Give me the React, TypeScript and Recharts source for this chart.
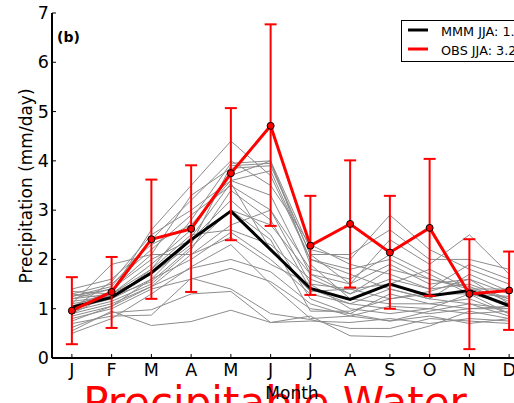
import React from 'react';
import { LineChart, Line, XAxis, YAxis, ReferenceLine, ErrorBar } from 'recharts';

// Month initials on the x axis
const months = ['J', 'F', 'M', 'A', 'M', 'J', 'J', 'A', 'S', 'O', 'N', 'D'];
const yTicks = [0, 1, 2, 3, 4, 5, 6, 7];

// Multi-model mean
const mmm = [1.03, 1.23, 1.73, 2.4, 2.98, 2.2, 1.41, 1.19, 1.5, 1.26, 1.37, 1.06];

// Observations with their uncertainty ranges
const obs = [0.96, 1.34, 2.41, 2.62, 3.75, 4.71, 2.28, 2.72, 2.14, 2.64, 1.3, 1.37];
const obsLow = [0.28, 0.61, 1.2, 1.34, 2.39, 2.68, 1.28, 1.43, 1.0, 1.26, 0.18, 0.57];
const obsHigh = [1.64, 2.05, 3.62, 3.91, 5.07, 6.77, 3.29, 4.01, 3.29, 4.04, 2.41, 2.16];

// Individual model climatologies
const models: number[][] = [
  [0.55, 0.95, 0.66, 0.74, 0.97, 0.72, 0.75, 0.72, 0.8, 0.7, 0.8, 0.75],
  [0.62, 0.92, 0.98, 1.3, 1.35, 0.72, 0.85, 0.45, 0.43, 0.65, 0.95, 0.8],
  [0.7, 0.85, 0.87, 1.62, 1.4, 0.9, 0.78, 0.6, 0.6, 0.8, 0.75, 0.7],
  [0.8, 1.0, 1.4, 1.6, 1.82, 1.55, 1.0, 0.9, 0.75, 0.95, 1.1, 0.85],
  [0.9, 1.1, 1.45, 1.82, 2.0, 1.75, 1.1, 0.85, 1.05, 1.0, 0.9, 0.95],
  [1.0, 1.2, 1.6, 2.0, 2.55, 2.0, 1.3, 1.1, 1.4, 1.2, 1.1, 1.0],
  [1.1, 1.9, 2.1, 2.1, 2.45, 1.9, 1.5, 1.4, 1.2, 1.3, 1.3, 1.1],
  [1.2, 1.3, 1.8, 2.5, 2.6, 2.3, 1.6, 1.3, 1.6, 1.4, 1.5, 1.2],
  [1.25, 1.4, 2.0, 2.4, 3.0, 2.7, 1.7, 1.5, 1.9, 1.5, 1.6, 1.3],
  [1.3, 1.5, 2.2, 2.9, 3.5, 3.0, 1.8, 1.6, 2.1, 1.7, 1.3, 1.25],
  [1.4, 1.6, 2.3, 2.7, 3.6, 3.8, 2.0, 1.8, 2.0, 1.6, 1.4, 1.4],
  [1.35, 1.3, 1.9, 2.6, 3.7, 4.0, 2.2, 2.0, 2.9, 2.2, 1.8, 1.5],
  [1.15, 1.25, 1.7, 2.3, 3.9, 3.95, 2.1, 1.5, 2.4, 1.9, 2.5, 1.7],
  [1.05, 1.35, 2.6, 3.5, 4.4, 3.7, 2.0, 1.7, 1.4, 1.2, 1.7, 1.35],
  [0.95, 1.15, 1.5, 2.2, 3.4, 2.8, 1.4, 1.1, 1.0, 0.9, 1.0, 1.05],
  [0.85, 1.05, 1.6, 2.4, 3.2, 2.5, 1.2, 0.9, 1.3, 1.1, 1.2, 0.9],
  [1.25, 1.45, 2.4, 3.2, 4.0, 3.5, 2.3, 1.9, 1.7, 1.4, 1.9, 1.6],
  [1.3, 1.2, 1.8, 2.8, 3.95, 4.0, 1.9, 1.2, 1.1, 1.1, 1.0, 1.0],
  [1.0, 1.55, 2.5, 3.0, 3.6, 3.3, 1.7, 1.3, 1.8, 1.6, 1.45, 1.15],
  [0.75, 1.05, 1.45, 2.1, 2.7, 3.0, 1.5, 1.0, 0.9, 1.0, 1.3, 0.9],
  [1.2, 1.4, 2.1, 3.3, 3.85, 3.9, 2.1, 2.1, 2.6, 2.0, 2.0, 1.8],
  [0.9, 1.3, 1.7, 2.45, 3.55, 2.2, 1.35, 1.4, 1.5, 1.8, 1.4, 1.2],
  [1.1, 1.25, 1.55, 2.25, 3.0, 2.4, 0.95, 0.95, 1.2, 1.35, 1.6, 1.1],
  [0.5, 0.8, 1.3, 1.85, 2.3, 1.5, 0.8, 0.85, 0.75, 0.85, 0.7, 0.8],
];

const data = months.map((m, i) => {
  const row: Record<string, number | number[]> = {
    x: i,
    mmm: mmm[i],
    obs: obs[i],
    obsErr: [obs[i] - obsLow[i], obsHigh[i] - obs[i]],
  };
  models.forEach((series, k) => {
    row[`m${k}`] = series[i];
  });
  return row;
});

const jja = (s: number[]) => (s[5] + s[6] + s[7]) / 3;
const mmmJJA = jja(mmm).toFixed(2);
const obsJJA = jja(obs).toFixed(2);

const FONT = 'DejaVu Sans, sans-serif';

const BottomTick = (props: any) => {
  const { x, y, payload } = props;
  return (
    <g>
      <line x1={x} x2={x} y1={y} y2={y - 4} stroke="#000" strokeWidth={1} />
      <text x={x} y={y + 18} textAnchor="middle" fontSize={17.5} fontFamily={FONT} fill="#000">
        {months[payload.value]}
      </text>
    </g>
  );
};

const TopTick = (props: any) => {
  const { x, y } = props;
  return <line x1={x} x2={x} y1={y} y2={y + 4} stroke="#000" strokeWidth={1} />;
};

const LeftTick = (props: any) => {
  const { x, y, payload } = props;
  return (
    <g>
      <line x1={x} x2={x + 4} y1={y} y2={y} stroke="#000" strokeWidth={1} />
      <text x={x - 3} y={y + 6} textAnchor="end" fontSize={17.5} fontFamily={FONT} fill="#000">
        {payload.value}
      </text>
    </g>
  );
};

export default function App() {
  return (
    <div style={{ position: 'absolute', left: 0, top: 0, width: 514, height: 403, overflow: 'hidden', background: '#fff' }}>
      <LineChart width={540} height={403} data={data} margin={{ top: 13, right: 11, left: 0, bottom: 0 }}>
        <XAxis
          xAxisId="bottom"
          dataKey="x"
          type="number"
          domain={[-0.5, 11.5]}
          ticks={months.map((_, i) => i)}
          height={45}
          tickSize={0}
          tickMargin={0}
          tickLine={false}
          axisLine={{ stroke: '#000', strokeWidth: 2 }}
          tick={<BottomTick />}
          interval={0}
        />
        <XAxis
          xAxisId="top"
          orientation="top"
          dataKey="x"
          type="number"
          domain={[-0.5, 11.5]}
          ticks={months.map((_, i) => i)}
          height={0}
          tickSize={0}
          tickMargin={0}
          tickLine={false}
          axisLine={{ stroke: '#000', strokeWidth: 2 }}
          tick={<TopTick />}
          interval={0}
        />
        <YAxis
          type="number"
          domain={[0, 7]}
          ticks={yTicks}
          width={52}
          tickSize={0}
          tickMargin={0}
          tickLine={false}
          axisLine={{ stroke: '#000', strokeWidth: 2 }}
          tick={<LeftTick />}
          interval={0}
        />
        <ReferenceLine xAxisId="bottom" x={11.5} stroke="#000" strokeWidth={2} />
        {models.map((_, k) => (
          <Line
            key={k}
            xAxisId="bottom"
            dataKey={`m${k}`}
            stroke="#8c8c8c"
            strokeWidth={1}
            dot={false}
            isAnimationActive={false}
          />
        ))}
        <Line xAxisId="bottom" dataKey="mmm" stroke="#000" strokeWidth={3} dot={false} isAnimationActive={false} />
        <Line
          xAxisId="bottom"
          dataKey="obs"
          stroke="#ff0000"
          strokeWidth={3}
          dot={{ r: 3.5, fill: '#ff0000', stroke: '#000', strokeWidth: 1 }}
          isAnimationActive={false}
        >
          <ErrorBar dataKey="obsErr" direction="y" width={6} stroke="#ff0000" strokeWidth={2} />
        </Line>
      </LineChart>
      <svg width={514} height={403} style={{ position: 'absolute', left: 0, top: 0, pointerEvents: 'none' }}>
        <text x={57} y={42} fontSize={14} fontWeight="bold" fontFamily={FONT} fill="#000">(b)</text>
        <text
          transform="translate(32,186) rotate(-90)"
          textAnchor="middle"
          fontSize={17}
          fontFamily={FONT}
          fill="#000"
        >
          Precipitation (mm/day)
        </text>
        <text x={275} y={417} textAnchor="middle" fontSize={42} fontFamily={FONT} fill="#ff0000">
          Precipitable Water
        </text>
        <text x={292} y={399} textAnchor="middle" fontSize={17} fontFamily={FONT} fill="#000">
          Month
        </text>
        <rect x={401.5} y={20.5} width={140} height={41} fill="#fff" stroke="#000" strokeWidth={1} />
        <line x1={408} x2={428} y1={30} y2={30} stroke="#000" strokeWidth={3} />
        <text x={441} y={35.5} fontSize={12.8} fontFamily={FONT} fill="#000">MMM JJA: {mmmJJA}</text>
        <line x1={408} x2={428} y1={49} y2={49} stroke="#ff0000" strokeWidth={3} />
        <text x={441} y={54.5} fontSize={12.8} fontFamily={FONT} fill="#000">OBS JJA: {obsJJA}</text>
      </svg>
    </div>
  );
}
